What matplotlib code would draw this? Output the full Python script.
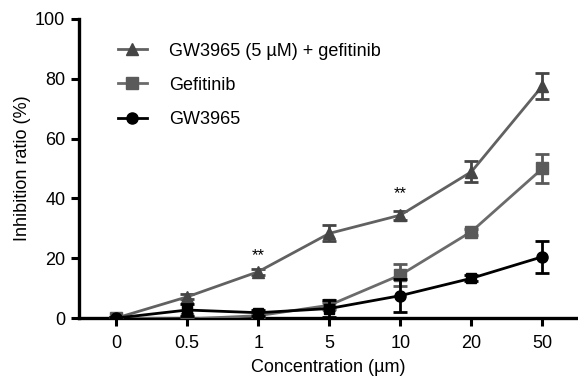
import matplotlib
matplotlib.use('Agg')
import matplotlib.pyplot as plt
from matplotlib.lines import Line2D

plt.rcParams['font.family'] = ['Liberation Sans', 'DejaVu Sans']

# data
conc_labels = ['0', '0.5', '1', '5', '10', '20', '50']
combo = [0, 7.1, 15.5, 28.3, 34.4, 48.9, 77.6]
combo_err = [0.5, 0.8, 1.0, 2.7, 1.5, 3.5, 4.4]
gefitinib = [0, -0.3, 0.8, 4.3, 14.4, 28.9, 50.0]
gefitinib_err = [0.5, 0.5, 0.5, 1.2, 3.7, 1.0, 4.9]
gw3965 = [0, 2.7, 1.8, 3.2, 7.5, 13.3, 20.5]
gw3965_err = [0.5, 2.0, 1.0, 3.0, 5.5, 1.0, 5.3]
star_pos = [2, 4]  # index of concentrations marked **
star_y = [21.0, 41.5]

x = list(range(len(conc_labels)))

fig = plt.figure(figsize=(5.78, 3.76), dpi=100)
ax = fig.add_axes([0.137, 0.154, 0.863, 0.796])

c_combo = '#616161'
c_gef = '#6b6b6b'

ax.errorbar(x, combo, yerr=combo_err, color=c_combo, lw=2, marker='^', ms=8,
            mfc='#454545', mec='#454545', capsize=5, capthick=2, elinewidth=2,
            ecolor='#454545', zorder=3)
ax.errorbar(x, gefitinib, yerr=gefitinib_err, color=c_gef, lw=2, marker='s', ms=8,
            mfc='#5a5a5a', mec='#5a5a5a', capsize=5, capthick=2, elinewidth=2,
            ecolor='#5a5a5a', zorder=4)
ax.errorbar(x, gw3965, yerr=gw3965_err, color='black', lw=2, marker=None,
            capsize=5, capthick=2, elinewidth=2, zorder=5)
# the black series mixes circle and square markers in the original
black_markers = ['o', 's', 's', 's', 'o', 's', 'o']
for xi, yi, m in zip(x, gw3965, black_markers):
    ax.plot(xi, yi, marker=m, ms=8 if m == 'o' else 7.5, color='black', zorder=6)

for i, yv in zip(star_pos, star_y):
    ax.text(x[i], yv, '**', ha='center', va='center', fontsize=12)

ax.set_xlim(-0.52, 6.5)
ax.set_ylim(0, 100)
ax.set_xticks(x)
ax.set_xticklabels(conc_labels)
ax.set_yticks([0, 20, 40, 60, 80, 100])
ax.tick_params(labelsize=13, width=2.2, length=6, direction='out', pad=4)
ax.tick_params(axis='x', pad=6)
for s in ['top', 'right']:
    ax.spines[s].set_visible(False)
for s in ['left', 'bottom']:
    ax.spines[s].set_linewidth(2.4)
ax.spines['left'].set_bounds(0, 100)

ax.set_xlabel('Concentration (µm)', fontsize=13, labelpad=5)
ax.set_ylabel('Inhibition ratio (%)', fontsize=13, labelpad=3)

handles = [
    Line2D([], [], color=c_combo, lw=2, marker='^', ms=8, mfc='#454545', mec='#454545'),
    Line2D([], [], color=c_gef, lw=2, marker='s', ms=8, mfc='#5a5a5a', mec='#5a5a5a'),
    Line2D([], [], color='black', lw=2, marker='o', ms=8),
]
labels = ['GW3965 (5 µM) + gefitinib', 'Gefitinib', 'GW3965']
ax.legend(handles, labels, loc='upper left', bbox_to_anchor=(0.045, 0.975),
          frameon=False, fontsize=13, handlelength=1.6, handletextpad=1.25,
          labelspacing=0.95)

fig.savefig('out.png', dpi=100)
